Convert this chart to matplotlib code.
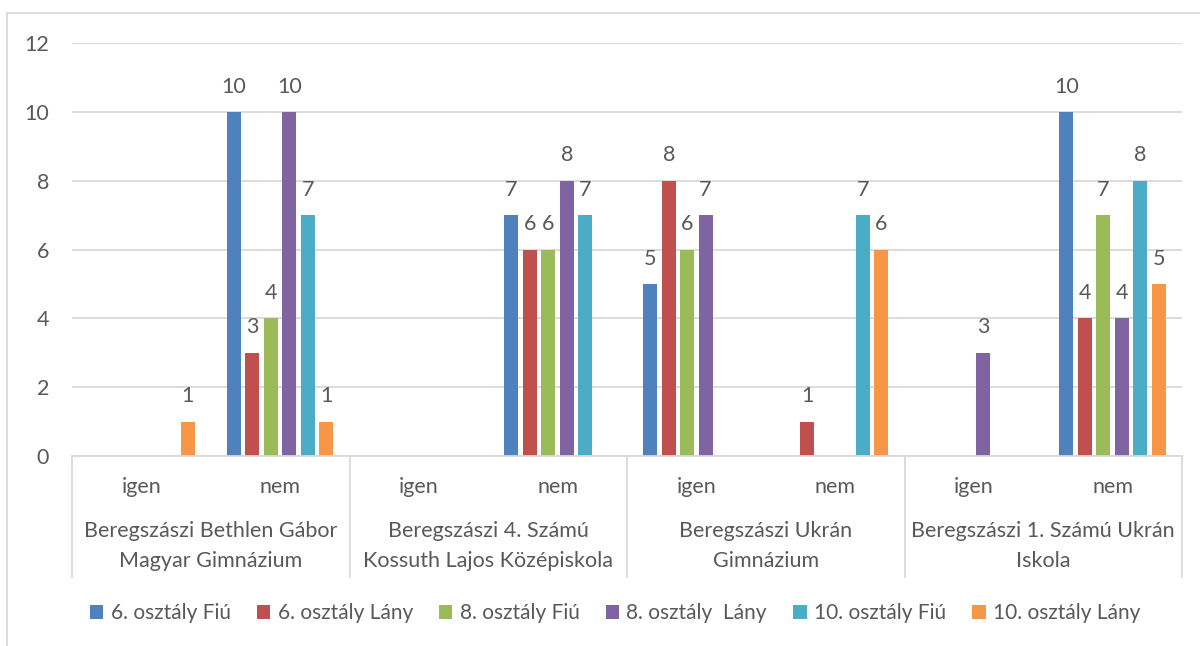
import numpy as np
import matplotlib
matplotlib.use('Agg')
import matplotlib.pyplot as plt
from matplotlib.lines import Line2D

plt.rcParams['font.family'] = ['Lato', 'DejaVu Sans']

# categories
schools = ["Beregszászi Bethlen Gábor\nMagyar Gimnázium",
           "Beregszászi 4. Számú\nKossuth Lajos Középiskola",
           "Beregszászi Ukrán\nGimnázium",
           "Beregszászi 1. Számú Ukrán\nIskola"]
answers = ["igen", "nem"]

series_names = ["6. osztály Fiú", "6. osztály Lány", "8. osztály Fiú",
                "8. osztály  Lány", "10. osztály Fiú", "10. osztály Lány"]
colors = ["#4F81BD", "#C0504D", "#9BBB59", "#8064A2", "#4BACC6", "#F79646"]

nan = np.nan
# values per category (igen, nem for each school), missing = no bar
fiu6 = [nan, 10, nan, 7, 5, nan, nan, 10]
lany6 = [nan, 3, nan, 6, 8, 1, nan, 4]
fiu8 = [nan, 4, nan, 6, 6, nan, nan, 7]
lany8 = [nan, 10, nan, 8, 7, nan, 3, 4]
fiu10 = [nan, 7, nan, 7, nan, 7, nan, 8]
lany10 = [1, 1, nan, nan, nan, 6, nan, 5]
series = [fiu6, lany6, fiu8, lany8, fiu10, lany10]

text_col = "#595959"
grid_col = "#D9D9D9"
fs = 15.5

fig = plt.figure(figsize=(12, 6.46), dpi=100)
W, H = 1200, 646
ax = fig.add_axes([72 / W, 1 - 456 / H, (1182 - 72) / W, (456 - 43) / H])

n_cat = len(schools) * len(answers)
x = np.arange(n_cat)
pitch = 0.133
width = 0.101
for i, (name, vals, c) in enumerate(zip(series_names, series, colors)):
    xs = x + (i - 2.5) * pitch
    ax.bar(xs, vals, width=width, color=c, label=name, zorder=2)
    for xi, v in zip(xs, vals):
        if not np.isnan(v):
            ax.annotate(f"{int(v)}", (xi, v), xytext=(0, 11), textcoords='offset points',
                        ha='center', va='bottom', fontsize=fs, color=text_col)

ax.set_xlim(-0.5, n_cat - 0.5)
ax.set_ylim(0, 12)
ax.set_yticks(range(0, 13, 2))
ax.grid(axis='y', color=grid_col, linewidth=1.3, zorder=0)
for s in ['top', 'right', 'left']:
    ax.spines[s].set_visible(False)
ax.spines['bottom'].set_color(grid_col)
ax.spines['bottom'].set_linewidth(1.3)
ax.tick_params(axis='y', length=0, pad=16.5, labelsize=fs, labelcolor=text_col)
ax.tick_params(axis='x', length=0, pad=15, labelsize=fs, labelcolor=text_col)
ax.set_xticks(x)
ax.set_xticklabels(answers * len(schools))

# school labels and separators below the axis
for k, name in enumerate(schools):
    xc = (ax.transData.transform((2 * k + 0.5, 0))[0]) / W
    fig.text(xc, 1 - 546 / H, name, ha='center', va='center', fontsize=fs,
             color=text_col, linespacing=1.6)
for k in range(len(schools) + 1):
    xb = ax.transData.transform((2 * k - 0.5, 0))[0] / W
    fig.add_artist(Line2D([xb, xb], [1 - 456 / H, 1 - 577 / H], color=grid_col, linewidth=1.3))

# outer chart frame
fig.add_artist(Line2D([7 / W, 7 / W], [0, 1 - 13 / H], color=grid_col, linewidth=1.3))
fig.add_artist(Line2D([7 / W, 1], [1 - 13 / H, 1 - 13 / H], color=grid_col, linewidth=1.3))

fig.legend(loc='center', bbox_to_anchor=(615 / W, 1 - 613 / H), ncol=6, frameon=False,
           fontsize=15, labelcolor=text_col, handlelength=0.65, handleheight=0.65,
           handletextpad=0.35, columnspacing=1.25)

fig.savefig("out.png", dpi=100)
